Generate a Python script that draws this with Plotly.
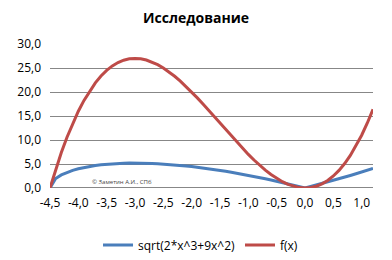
import plotly.graph_objects as go

x_vals = [-4.5, -4.4, -4.3, -4.2, -4.1, -4.0, -3.9, -3.8, -3.7, -3.6, -3.5, -3.4, -3.3, -3.2, -3.1,
          -3.0, -2.9, -2.8, -2.7, -2.6, -2.5, -2.4, -2.3, -2.2, -2.1, -2.0, -1.9, -1.8, -1.7, -1.6,
          -1.5, -1.4, -1.3, -1.2, -1.1, -1.0, -0.9, -0.8, -0.7, -0.6, -0.5, -0.4, -0.3, -0.2, -0.1,
          0.0, 0.1, 0.2, 0.3, 0.4, 0.5, 0.6, 0.7, 0.8, 0.9, 1.0, 1.1, 1.2]

sqrt_series = [0.0, 1.968, 2.720, 3.253, 3.667, 4.0, 4.272, 4.496, 4.680, 4.830, 4.950, 5.043, 5.112,
               5.160, 5.187, 5.196, 5.188, 5.163, 5.123, 5.068, 5.0, 4.919, 4.825, 4.718, 4.601, 4.472,
               4.333, 4.183, 4.023, 3.853, 3.674, 3.486, 3.289, 3.083, 2.868, 2.646, 2.415, 2.176,
               1.930, 1.676, 1.414, 1.145, 0.869, 0.587, 0.297, 0.0, 0.303, 0.613, 0.930, 1.252,
               1.581, 1.916, 2.257, 2.605, 2.958, 3.317, 3.681, 4.052]

f_series = [0.0, 3.872, 7.396, 10.584, 13.448, 16.0, 18.252, 20.216, 21.904, 23.328, 24.5, 25.432,
            26.136, 26.624, 26.908, 27.0, 26.912, 26.656, 26.244, 25.688, 25.0, 24.192, 23.276,
            22.264, 21.168, 20.0, 18.772, 17.496, 16.184, 14.848, 13.5, 12.152, 10.816, 9.504,
            8.228, 7.0, 5.832, 4.736, 3.724, 2.808, 2.0, 1.312, 0.756, 0.344, 0.088, 0.0, 0.092,
            0.376, 0.864, 1.568, 2.5, 3.672, 5.096, 6.784, 8.748, 11.0, 13.552, 16.416]

x_tick_vals = [-4.5, -4.0, -3.5, -3.0, -2.5, -2.0, -1.5, -1.0, -0.5, 0.0, 0.5, 1.0]
x_tick_text = ["-4,5", "-4,0", "-3,5", "-3,0", "-2,5", "-2,0", "-1,5", "-1,0", "-0,5", "0,0", "0,5", "1,0"]
y_tick_vals = [0, 5, 10, 15, 20, 25, 30]
y_tick_text = ["0,0", "5,0", "10,0", "15,0", "20,0", "25,0", "30,0"]

font_family = "Open Sans, Liberation Sans, sans-serif"

fig = go.Figure()
fig.add_trace(go.Scatter(x=x_vals, y=sqrt_series, mode="lines", name="sqrt(2*x^3+9x^2)",
                         line=dict(color="#4A7EBB", width=3)))
fig.add_trace(go.Scatter(x=x_vals, y=f_series, mode="lines", name="f(x)",
                         line=dict(color="#BE4B48", width=3)))

fig.update_layout(
    width=392, height=260,
    margin=dict(l=50, r=19, t=44, b=72, autoexpand=False),
    paper_bgcolor="white", plot_bgcolor="white",
    font=dict(family=font_family, size=12, color="#000000"),
    title=dict(text="<b>Исследование</b>", x=0.5, xanchor="center", y=0.93, yanchor="middle",
               font=dict(size=14, family=font_family, color="#000000")),
    showlegend=True,
    legend=dict(orientation="h", x=0.466, xanchor="center", y=-0.395, yanchor="middle",
                font=dict(size=12), itemwidth=30, tracegroupgap=0),
    annotations=[dict(text="© Заметин А.И., СПб", x=-3.8, y=1.3, xref="x", yref="y",
                      xanchor="left", yanchor="middle", showarrow=False,
                      font=dict(size=6, color="#444444"))],
)
fig.update_xaxes(range=[-4.5, 1.2], tickvals=x_tick_vals, ticktext=x_tick_text,
                 showgrid=False, zeroline=False, showline=False, ticks="",
                 tickfont=dict(size=12), ticklabelstandoff=6)
fig.update_yaxes(range=[0, 30], tickvals=y_tick_vals, ticktext=y_tick_text,
                 showgrid=True, gridcolor="#878787", gridwidth=1, zeroline=False,
                 showline=False, ticks="", tickfont=dict(size=12), ticklabelstandoff=8)
fig.add_shape(type="line", xref="paper", yref="y", x0=0, x1=1, y0=0, y1=0,
              line=dict(color="#878787", width=2), layer="below")

fig.write_html("out.html")
